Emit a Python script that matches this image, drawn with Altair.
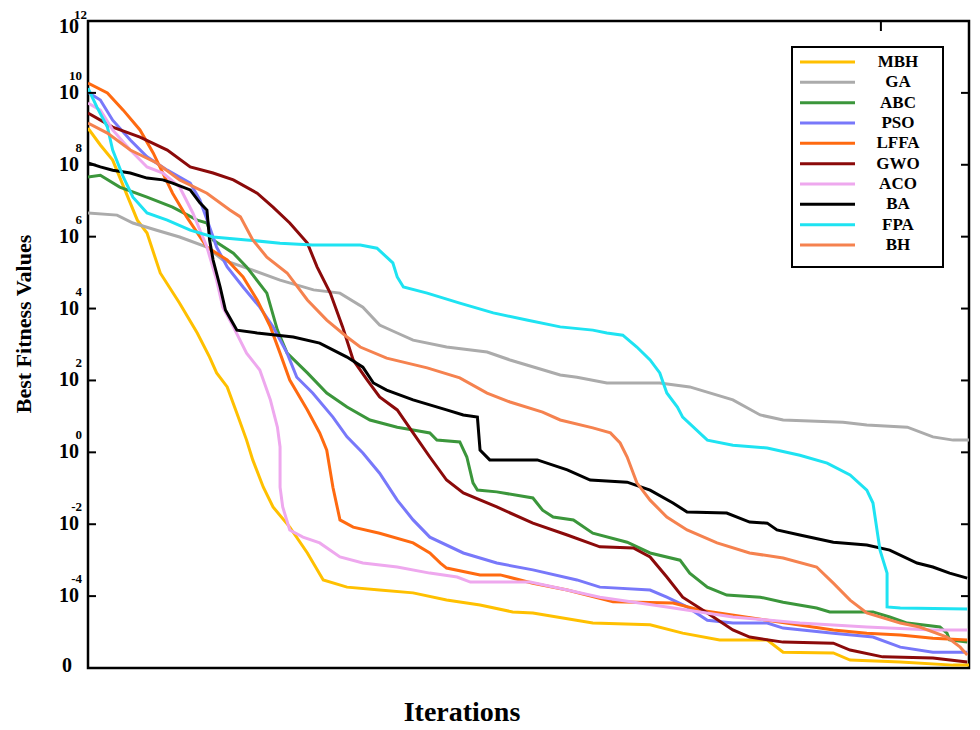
import altair as alt
import pandas as pd

# ---------------- data (iteration, log10 of best fitness) ----------------
names = ["MBH", "GA", "ABC", "PSO", "LFFA", "GWO", "ACO", "BA", "FPA", "BH"]
colors = ["#FFC000", "#ABABAB", "#3B963B", "#7878FA", "#FF6A10",
          "#8B0A0A", "#EEA8EE", "#000000", "#1EE3F2", "#F5824F"]

mbh_it = [0, 14, 28, 56, 67, 82, 104, 124, 138, 146, 158, 169, 180, 187, 199, 210, 229, 249, 267, 294,
          331, 369, 407, 445, 482, 505, 573, 638, 675, 717, 771, 789, 846, 865, 922, 982, 1000]
mbh_lg = [9.02, 8.55, 8.13, 6.46, 6.10, 4.99, 4.15, 3.32, 2.65, 2.21, 1.82, 1.09, 0.34, -0.21, -0.97, -1.52,
          -2.08, -2.80, -3.55, -3.75, -3.83, -3.91, -4.11, -4.25, -4.44, -4.47, -4.75, -4.80, -5.03, -5.22,
          -5.22, -5.56, -5.58, -5.78, -5.83, -5.92, -5.92]

ga_it = [0, 33, 51, 78, 104, 135, 153, 187, 218, 256, 286, 312, 331, 351, 369, 407, 453, 479, 498, 536,
         555, 589, 649, 683, 732, 763, 789, 857, 884, 930, 959, 982, 1000]
ga_lg = [6.66, 6.60, 6.38, 6.18, 5.99, 5.71, 5.35, 5.07, 4.79, 4.52, 4.43, 4.04, 3.54, 3.32, 3.12, 2.93,
         2.79, 2.57, 2.43, 2.15, 2.09, 1.93, 1.93, 1.82, 1.46, 1.04, 0.90, 0.84, 0.76, 0.70, 0.43, 0.34, 0.34]

abc_it = [0, 14, 36, 67, 96, 124, 135, 142, 165, 180, 203, 215, 226, 249, 271, 294, 320, 351, 369, 388,
          396, 422, 430, 437, 442, 464, 505, 516, 528, 551, 573, 612, 638, 672, 683, 703, 725, 763, 789,
          827, 842, 891, 910, 930, 967, 975, 978, 998]
abc_lg = [7.66, 7.71, 7.38, 7.10, 6.82, 6.46, 6.38, 5.91, 5.54, 5.16, 4.43, 3.40, 2.76, 2.21, 1.65, 1.26,
          0.90, 0.70, 0.62, 0.54, 0.34, 0.29, -0.13, -0.85, -1.05, -1.10, -1.27, -1.61, -1.80, -1.88, -2.25,
          -2.50, -2.80, -3.00, -3.36, -3.75, -3.97, -4.03, -4.17, -4.33, -4.44, -4.44, -4.58, -4.75, -4.86,
          -5.03, -5.22, -5.28]

pso_it = [0, 14, 28, 48, 67, 90, 116, 127, 138, 146, 158, 176, 195, 210, 226, 237, 255, 278, 294, 312,
          331, 351, 369, 388, 426, 464, 505, 555, 581, 638, 657, 680, 703, 732, 771, 789, 846, 891, 922,
          959, 998]
pso_lg = [10.02, 9.80, 9.24, 8.69, 8.22, 7.85, 7.49, 7.02, 6.27, 5.71, 5.16, 4.60, 4.04, 3.49, 2.76, 2.09,
          1.65, 0.98, 0.43, -0.02, -0.58, -1.33, -1.88, -2.36, -2.80, -3.08, -3.27, -3.55, -3.75, -3.83,
          -4.03, -4.30, -4.67, -4.75, -4.75, -4.89, -5.03, -5.14, -5.42, -5.56, -5.56]

lffa_it = [0, 22, 40, 59, 74, 85, 96, 112, 135, 158, 176, 192, 207, 218, 229, 249, 263, 271, 278, 286,
           301, 331, 369, 388, 400, 407, 445, 468, 505, 544, 596, 664, 695, 771, 846, 884, 922, 959, 998]
lffa_lg = [10.27, 10.0, 9.52, 8.97, 8.33, 7.77, 7.21, 6.55, 5.71, 5.35, 4.88, 4.24, 3.49, 2.76, 2.01, 1.18,
           0.54, 0.06, -0.97, -1.88, -2.08, -2.25, -2.52, -2.80, -3.08, -3.22, -3.41, -3.41, -3.64, -3.83,
           -4.16, -4.19, -4.39, -4.67, -4.94, -5.03, -5.08, -5.17, -5.22]

gwo_it = [0, 28, 59, 90, 116, 142, 165, 192, 210, 229, 249, 260, 275, 289, 301, 317, 331, 351, 369, 388,
          407, 426, 464, 505, 544, 581, 619, 638, 657, 675, 703, 732, 751, 789, 846, 865, 902, 959, 998]
gwo_lg = [9.44, 9.05, 8.77, 8.41, 7.94, 7.77, 7.58, 7.21, 6.82, 6.38, 5.82, 5.16, 4.43, 3.49, 2.57, 2.01,
          1.54, 1.18, 0.54, -0.13, -0.77, -1.13, -1.52, -1.97, -2.30, -2.63, -2.66, -2.91, -3.47, -4.03,
          -4.47, -4.94, -5.14, -5.28, -5.31, -5.50, -5.69, -5.72, -5.83]

aco_it = [0, 14, 28, 48, 67, 85, 104, 119, 135, 146, 153, 165, 180, 195, 207, 215, 218, 218, 221, 229,
          244, 263, 286, 312, 351, 388, 419, 434, 502, 544, 581, 657, 732, 808, 884, 959, 998]
aco_lg = [9.72, 9.52, 8.97, 8.41, 7.94, 7.77, 7.38, 6.66, 5.71, 4.79, 4.04, 3.49, 2.76, 2.29, 1.46, 0.70,
          0.15, -0.97, -1.52, -2.16, -2.36, -2.52, -2.91, -3.08, -3.19, -3.36, -3.47, -3.61, -3.61, -3.83,
          -4.03, -4.30, -4.58, -4.75, -4.86, -4.94, -4.94]

ba_it = [0, 14, 28, 48, 67, 85, 96, 116, 127, 135, 138, 142, 150, 156, 169, 192, 233, 263, 294, 312, 324,
         339, 369, 407, 426, 442, 445, 456, 510, 544, 570, 612, 638, 664, 680, 725, 751, 771, 782, 808,
         846, 884, 910, 941, 959, 978, 998]
ba_lg = [8.05, 7.94, 7.85, 7.77, 7.63, 7.58, 7.49, 7.30, 6.94, 6.74, 5.91, 5.35, 4.60, 3.96, 3.40, 3.32,
         3.21, 3.04, 2.65, 2.37, 1.93, 1.73, 1.46, 1.18, 1.04, 0.98, 0.06, -0.21, -0.21, -0.49, -0.77, -0.83,
         -1.05, -1.41, -1.66, -1.69, -1.94, -1.97, -2.16, -2.30, -2.50, -2.58, -2.72, -3.08, -3.19, -3.36,
         -3.50]

fpa_it = [0, 10, 22, 28, 40, 51, 67, 90, 116, 142, 180, 218, 255, 309, 328, 339, 346, 351, 358, 385, 422,
          460, 498, 536, 573, 589, 607, 623, 638, 649, 657, 669, 675, 703, 732, 771, 808, 839, 865, 884,
          891, 899, 907, 907, 922, 998]
fpa_lg = [10.13, 9.61, 9.05, 8.41, 7.66, 7.10, 6.66, 6.46, 6.18, 5.99, 5.91, 5.82, 5.77, 5.77, 5.68, 5.43,
          5.27, 4.88, 4.60, 4.43, 4.15, 3.88, 3.68, 3.49, 3.40, 3.32, 3.26, 2.93, 2.57, 2.21, 1.65, 1.26,
          0.98, 0.34, 0.20, 0.12, -0.08, -0.30, -0.63, -1.05, -1.41, -2.72, -3.36, -4.30, -4.33, -4.36]

bh_it = [0, 22, 48, 78, 104, 135, 161, 173, 187, 203, 226, 249, 271, 294, 309, 339, 385, 422, 453, 479,
         516, 536, 573, 593, 604, 612, 623, 638, 657, 680, 714, 751, 789, 827, 846, 865, 884, 922, 944,
         975, 990, 998]
bh_lg = [9.16, 8.88, 8.41, 8.05, 7.58, 7.21, 6.74, 6.55, 5.91, 5.43, 4.99, 4.24, 3.68, 3.21, 2.93, 2.62,
         2.35, 2.07, 1.65, 1.40, 1.12, 0.90, 0.68, 0.54, 0.26, -0.13, -0.85, -1.33, -1.80, -2.16, -2.52,
         -2.80, -2.94, -3.19, -3.64, -4.11, -4.47, -4.75, -4.86, -5.14, -5.42, -5.64]

series = [("MBH", mbh_it, mbh_lg), ("GA", ga_it, ga_lg), ("ABC", abc_it, abc_lg),
          ("PSO", pso_it, pso_lg), ("LFFA", lffa_it, lffa_lg), ("GWO", gwo_it, gwo_lg),
          ("ACO", aco_it, aco_lg), ("BA", ba_it, ba_lg), ("FPA", fpa_it, fpa_lg), ("BH", bh_it, bh_lg)]

# axis tick labels (powers of ten) and titles
tick_exps = [10, 8, 6, 4, 2, 0, -2, -4]
tick_sup = ["10", "8", "6", "4", "2", "0", "-2", "-4"]
top_exp, top_sup = 12, "12"
bottom_exp, bottom_label = -6, "0"
top_tick_iter = [900]
x_title = "Iterations"
y_title = "Best Fitness Values"

# ---------------- build tables ----------------
rows = []
for name, its, lgs in series:
    for i, (it, lg) in enumerate(zip(its, lgs)):
        rows.append({"algorithm": name, "iteration": it, "log10_fitness": lg, "idx": i})
df = pd.DataFrame(rows)

ticks_df = pd.DataFrame({"pos": tick_exps, "base": ["10"] * len(tick_exps), "sup": tick_sup})
top_df = pd.DataFrame({"pos": [top_exp], "base": ["10"], "sup": [top_sup]})
bot_df = pd.DataFrame({"pos": [bottom_exp], "base": [bottom_label]})
toptick_df = pd.DataFrame({"iteration": top_tick_iter})
legend_df = pd.DataFrame({"algorithm": names, "rank": list(range(len(names)))})
xt_df = pd.DataFrame({"t": [x_title]})
yt_df = pd.DataFrame({"t": [y_title]})
box_df = pd.DataFrame({"b": [1]})

xs = alt.Scale(domain=[0, 1000], nice=False, zero=False)
ys = alt.Scale(domain=[-6, 12], nice=False, zero=False)
cs = alt.Scale(domain=names, range=colors)
FONT = "Liberation Serif"

lines = alt.Chart(df).mark_line(strokeWidth=3, clip=True).encode(
    x=alt.X("iteration:Q", scale=xs, axis=None),
    y=alt.Y("log10_fitness:Q", scale=ys, axis=None),
    color=alt.Color("algorithm:N", scale=cs, legend=None),
    order=alt.Order("idx:Q"),
)

left_ticks = alt.Chart(ticks_df).mark_rule(color="black", strokeWidth=2).encode(
    y=alt.Y("pos:Q", scale=ys, axis=None), x=alt.value(0), x2=alt.value(8))
right_ticks = alt.Chart(ticks_df).mark_rule(color="black", strokeWidth=2).encode(
    y=alt.Y("pos:Q", scale=ys, axis=None), x=alt.value(873), x2=alt.value(881))
top_tick = alt.Chart(toptick_df).mark_rule(color="black", strokeWidth=2).encode(
    x=alt.X("iteration:Q", scale=xs, axis=None), y=alt.value(0), y2=alt.value(10))

txt = dict(font=FONT, fontWeight="bold", color="black", baseline="middle")
base_txt = alt.Chart(ticks_df).mark_text(align="right", fontSize=20, **txt).encode(
    y=alt.Y("pos:Q", scale=ys, axis=None), x=alt.value(-9), text="base:N")
sup_txt = alt.Chart(ticks_df).mark_text(align="right", fontSize=13, dy=-17, **txt).encode(
    y=alt.Y("pos:Q", scale=ys, axis=None), x=alt.value(-6), text="sup:N")
top_base = alt.Chart(top_df).mark_text(align="right", fontSize=20, dy=6, **txt).encode(
    y=alt.Y("pos:Q", scale=ys, axis=None), x=alt.value(-9), text="base:N")
top_sup_t = alt.Chart(top_df).mark_text(align="right", fontSize=13, dy=-6, **txt).encode(
    y=alt.Y("pos:Q", scale=ys, axis=None), x=alt.value(-1), text="sup:N")
bot_txt = alt.Chart(bot_df).mark_text(align="right", fontSize=20, dy=-2, **txt).encode(
    y=alt.Y("pos:Q", scale=ys, axis=None), x=alt.value(-16), text="base:N")

x_title_t = alt.Chart(xt_df).mark_text(align="center", baseline="alphabetic", font=FONT, fontWeight="bold",
                                       fontSize=28, color="black").encode(
    x=alt.value(374), y=alt.value(700), text="t:N")
y_title_t = alt.Chart(yt_df).mark_text(align="center", baseline="alphabetic", font=FONT, fontWeight="bold",
                                       fontSize=22, color="black", angle=270).encode(
    x=alt.value(-57), y=alt.value(303), text="t:N")

# manual legend
leg_y = alt.Scale(domain=[0, 9], range=[41, 224])
leg_box = alt.Chart(box_df).mark_rect(fill="white", stroke="black", strokeWidth=2).encode(
    x=alt.value(704), x2=alt.value(855), y=alt.value(26), y2=alt.value(246))
leg_sym = alt.Chart(legend_df).mark_rule(strokeWidth=3).encode(
    y=alt.Y("rank:Q", scale=leg_y, axis=None), x=alt.value(712), x2=alt.value(767),
    color=alt.Color("algorithm:N", scale=cs, legend=None))
leg_lab = alt.Chart(legend_df).mark_text(align="center", fontSize=17, **txt).encode(
    y=alt.Y("rank:Q", scale=leg_y, axis=None), x=alt.value(810), text="algorithm:N")

chart = alt.layer(lines, left_ticks, right_ticks, top_tick, base_txt, sup_txt, top_base, top_sup_t,
                  bot_txt, x_title_t, y_title_t, leg_box, leg_sym, leg_lab).resolve_scale(
    y="independent").properties(
    width=881, height=647,
    autosize=alt.AutoSizeParams(type="none"),
    padding={"left": 80, "top": 13, "right": 3, "bottom": 61},
    background="white",
).configure_view(stroke="black", strokeWidth=2.5)

chart.save("out.html", embed_options={"renderer": "svg", "actions": False})
